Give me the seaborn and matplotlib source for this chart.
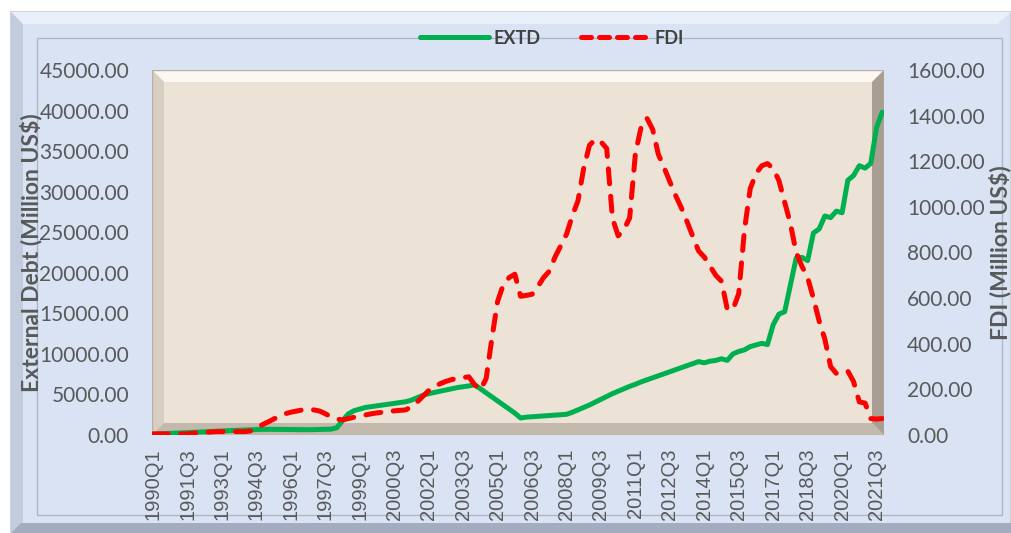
import numpy as np
import pandas as pd
import matplotlib
matplotlib.use('Agg')
import matplotlib.pyplot as plt
from matplotlib.patches import Rectangle, Polygon
import seaborn as sns

# quarterly data 1990Q1 - 2021Q4
years = list(range(1990, 2022))
quarters = [f'{y}Q{q}' for y in years for q in range(1, 5)]

extd = [100, 130, 160, 200, 230, 260, 300, 330, 360, 400, 430, 460, 500, 530, 560, 600,
        620, 650, 680, 700, 700, 700, 690, 680, 670, 660, 650, 650, 660, 680, 700, 720,
        900, 1800, 2600, 3000, 3200, 3400, 3500, 3600, 3700, 3800, 3900, 4000, 4100, 4300, 4600, 4900,
        5100, 5250, 5400, 5550, 5700, 5850, 5950, 6050, 6200, 5700, 5200, 4700, 4200, 3700, 3200, 2700,
        2100, 2200, 2250, 2300, 2350, 2400, 2450, 2500, 2550, 2800, 3100, 3400, 3700, 4050, 4400, 4750,
        5100, 5400, 5700, 6000, 6250, 6550, 6800, 7050, 7300, 7550, 7800, 8050, 8300, 8550, 8800, 9050,
        8900, 9100, 9200, 9400, 9200, 10000, 10300, 10500, 10900, 11100, 11300, 11150, 13600, 14900, 15200, 18500,
        21800, 21900, 21500, 24900, 25400, 27000, 26800, 27600, 27400, 31400, 32000, 33200, 32900, 33500, 37900, 39800]

fdi = [5, 5, 5, 5, 5, 5, 5, 8, 10, 12, 13, 15, 15, 15, 15, 15,
       15, 18, 30, 45, 57, 70, 82, 93, 100, 105, 110, 112, 110, 105, 93, 80,
       70, 66, 72, 78, 84, 88, 93, 97, 100, 103, 106, 108, 110, 125, 145, 170,
       195, 212, 225, 235, 243, 248, 252, 255, 220, 198, 247, 423, 586, 660,
       690, 705, 608, 612, 617, 650, 690, 718, 780, 830, 880, 960, 1027, 1170,
       1270, 1296, 1285, 1256, 950, 873, 900, 952, 1234, 1350, 1389, 1340, 1230, 1172,
       1110, 1050, 996, 935, 870, 807, 780, 740, 700, 674, 551, 551, 620, 900,
       1080, 1146, 1180, 1190, 1168, 1115, 1020, 926, 800, 740, 690, 600, 500, 420,
       300, 270, 278, 280, 234, 145, 140, 72, 70, 72]

df = pd.DataFrame({'Quarter': quarters, 'EXTD': extd, 'FDI': fdi})
df['idx'] = np.arange(len(df))

W, H = 1011, 533


def px(x, y):
    # pixel position -> figure fraction
    return (x / W, 1 - y / H)


fig = plt.figure(figsize=(W / 100, H / 100), dpi=100)
fig.patch.set_facecolor('white')

# outer chart frame with bevel (negative zorder -> behind the axes and their labels)
fig.add_artist(Rectangle(px(11, 533), (W - 11) / W, (533 - 12) / H, facecolor='#D9E3F4',
                         edgecolor='#C9CCD2', lw=1.2, zorder=-3))
fig.add_artist(Polygon([px(11, 12), px(1011, 12), px(997, 24), px(23, 24)], closed=True,
                       facecolor='#EAF0FA', edgecolor='none', zorder=-2))
fig.add_artist(Polygon([px(11, 12), px(23, 24), px(23, 523), px(11, 533)], closed=True,
                       facecolor='#C3CCDC', edgecolor='none', zorder=-2))
fig.add_artist(Polygon([px(11, 533), px(21, 523), px(1011, 523), px(1011, 533)], closed=True,
                       facecolor='#A3ADBF', edgecolor='none', zorder=-2))
fig.add_artist(Rectangle(px(37, 515), (1002 - 37) / W, (515 - 38) / H, facecolor='none',
                         edgecolor='#AEB6C6', lw=1.0, zorder=-1))

ax = fig.add_axes([152 / W, 1 - 435 / H, (884 - 152) / W, (435 - 70) / H])
ax.set_facecolor('#ECE3D6')
ax2 = ax.twinx()

# plot-area bevel
bx, by = 12 / 732, 12 / 365
bevel = [
    ([(0, 1), (1, 1), (1 - bx, 1 - by), (bx, 1 - by)], '#FBF8F3'),
    ([(0, 0), (bx, by), (bx, 1 - by), (0, 1)], '#D8CEC1'),
    ([(0, 0), (1, 0), (1 - bx, by), (bx, by)], '#C2B8AB'),
    ([(1, 0), (1, 1), (1 - bx, 1 - by), (1 - bx, by)], '#A89E92'),
]
for pts, col in bevel:
    ax.add_patch(Polygon(pts, closed=True, transform=ax.transAxes, facecolor=col,
                         edgecolor='none', zorder=0.5))
ax.add_patch(Rectangle((0, 0), 1, 1, transform=ax.transAxes, facecolor='none',
                       edgecolor='#B8B0A6', lw=1.0, zorder=0.6))

green = '#00B050'
red = '#FF0000'

sns.lineplot(data=df, x='idx', y='EXTD', ax=ax, color=green, lw=3.6, legend=False)
sns.lineplot(data=df, x='idx', y='FDI', ax=ax2, color=red, lw=3.6, legend=False)
l2 = ax2.get_lines()[0]
l2.set_dashes([3, 2.5])
l2.set_dash_capstyle('round')
ax.get_lines()[0].set_solid_capstyle('round')

ax.set_xlim(-0.2, 127.3)
ax.set_ylim(0, 45000)
ax2.set_ylim(0, 1600)
ax.set_yticks(np.arange(0, 45001, 5000))
ax2.set_yticks(np.arange(0, 1601, 200))
ax.set_yticklabels([f'{v:.2f}' for v in np.arange(0, 45001, 5000)])
ax2.set_yticklabels([f'{v:.2f}' for v in np.arange(0, 1601, 200)])

tick_idx = list(range(0, len(quarters), 6))
ax.set_xticks(tick_idx)
ax.set_xticklabels([quarters[i] for i in tick_idx], rotation=90,
                   fontsize=14.5, family='Liberation Sans', color='#595959')

for a in (ax, ax2):
    for s in a.spines.values():
        s.set_visible(False)
    a.tick_params(length=0)
    a.grid(False)
    a.set_xlabel('')

ax.tick_params(axis='y', pad=16.5, labelsize=15, labelcolor='#595959')
ax2.tick_params(axis='y', pad=16.5, labelsize=15, labelcolor='#595959')
ax.tick_params(axis='x', pad=9.5)
for t in ax.get_yticklabels() + ax2.get_yticklabels():
    t.set_family('Lato')

ax.set_ylabel('External Debt (Million US$)', fontsize=16.5, fontweight='bold',
              color='#595959', family='Lato')
ax.yaxis.set_label_coords(-0.150, 0.5)
ax2.set_ylabel('FDI (Million US$)', fontsize=16.5, fontweight='bold',
               color='#595959', family='Lato', rotation=90)
ax2.yaxis.set_label_coords(1.143, 0.5)

handles = [plt.Line2D([], [], color=green, lw=3.6, solid_capstyle='round'),
           plt.Line2D([], [], color=red, lw=3.6, dashes=[2, 1.6], dash_capstyle='round')]
leg = fig.legend(handles, ['EXTD', 'FDI'], loc='center', bbox_to_anchor=px(552, 38),
                 ncol=2, frameon=False, handlelength=3.8, handletextpad=0.3,
                 columnspacing=2.2, prop={'family': 'Lato', 'weight': 'bold', 'size': 13})
for t in leg.get_texts():
    t.set_color('#404040')

fig.savefig('out.png', dpi=100, facecolor=fig.get_facecolor())
